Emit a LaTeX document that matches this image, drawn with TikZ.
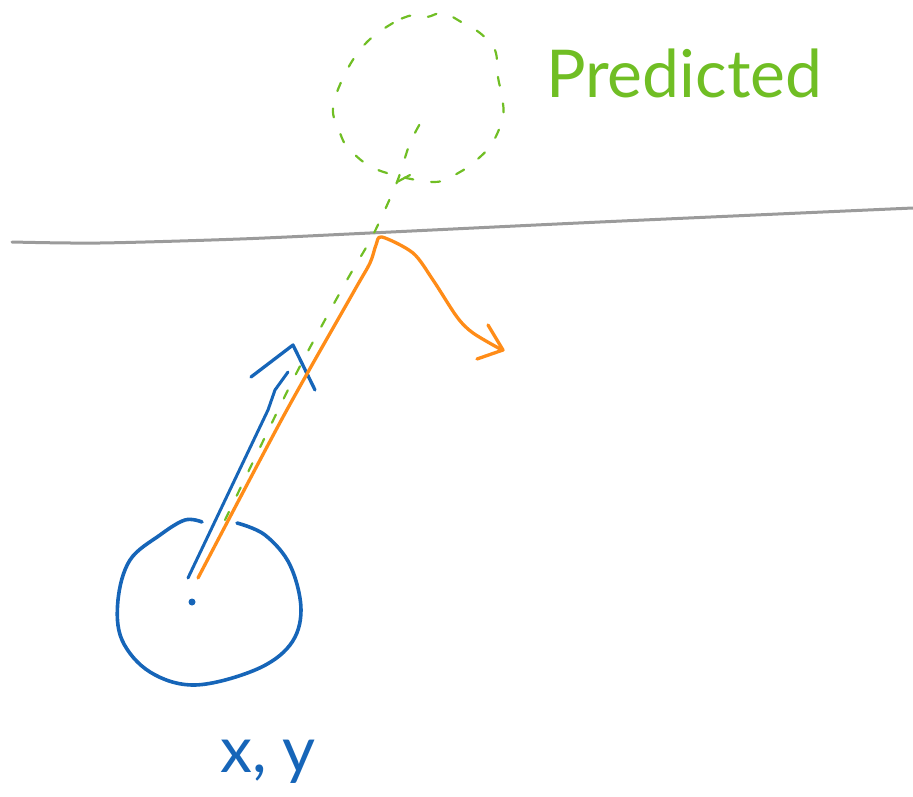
\documentclass[tikz,border=0pt]{standalone}
\usepackage{fontspec}
\setmainfont{Lato}
\definecolor{sblue}{RGB}{22,101,184}
\definecolor{sorange}{RGB}{255,140,24}
\definecolor{sgreen}{RGB}{112,190,36}
\definecolor{sgray}{RGB}{155,155,155}
\begin{document}
\begin{tikzpicture}[x=1pt,y=-1pt,
  pen/.style={line width=3.6pt,line cap=round,line join=round},
  bluepen/.style={pen,draw=sblue},
  orangepen/.style={pen,line width=3.3pt,draw=sorange},
  greenpen/.style={line width=2.2pt,line cap=round,draw=sgreen,dash pattern=on 9pt off 18pt},
  graypen/.style={line width=3pt,draw=sgray,line cap=round},
  lbl/.style={inner sep=0pt,anchor=base west}]
\useasboundingbox (0,0) rectangle (913,797);
% wall
\draw[graypen] plot[smooth,tension=0.5] coordinates {(12,242) (100,243) (240,239) (370,233) (600,222) (913,208)};
% predicted ball (dashed)
\draw[greenpen] plot[smooth cycle,tension=0.6] coordinates {(413,15) (393,23) (367,42) (347,70) (333,107) (340,133) (350,150) (378,170) (433,182) (460,172) (480,157) (493,142) (503,117) (502,97) (498,77) (495,50) (480,33) (463,23) (443,13) (427,17)};
% predicted path
\draw[greenpen] plot[smooth,tension=0.5] coordinates {(225,520) (283,400) (307,353) (347,280) (373,235) (397,182) (410,143) (425,115)};
\draw[sgreen,line width=2.2pt,line cap=round] (397,182) -- (410,175);
% ball
\draw[bluepen] plot[smooth,tension=0.6] coordinates {(237,523) (265,535) (290,565) (301,610) (290,645) (255,670) (195,685) (150,672) (122,640) (118,600) (130,560) (160,535) (185,520) (202,522)};
\fill[sblue] (192,602) circle (3.5pt);
% velocity arrow
\draw[bluepen,line width=3pt] (188,578) -- (268,410) -- (275,390) -- (288,372);
\draw[bluepen,line width=3.3pt] (251,377) -- (293,345) -- (315,390);
% actual bounce path
\draw[orangepen] plot[smooth,tension=0.5] coordinates {(198,578) (283,417) (353,293) (370,263) (376,245) (382,237) (413,253) (433,280) (457,317) (473,333) (502,350)};
\draw[orangepen] (488,325) -- (503,350) -- (477,359);
% labels
\node[lbl,text=sgreen,font=\fontsize{66}{72}\selectfont] (pred) at (546,98) {Predicted};
\node[lbl,text=sblue,font=\fontsize{64}{70}\selectfont] (xy) at (220,772) {x, y};
\end{tikzpicture}
\end{document}
